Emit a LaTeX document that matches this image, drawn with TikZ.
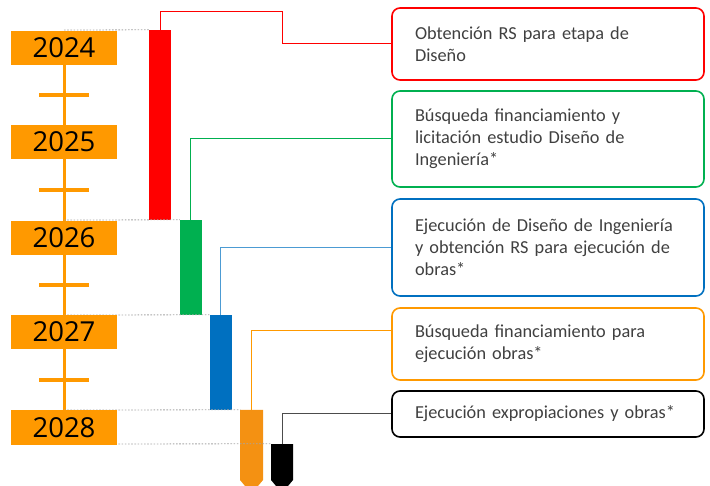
\documentclass[tikz,border=0pt]{standalone}
\usepackage{fontspec}
\setmainfont{Carlito}
\newfontfamily\yearfont{Open Sans}
\definecolor{yr}{RGB}{255,153,0}
\definecolor{cred}{RGB}{255,0,0}
\definecolor{cgreen}{RGB}{0,176,80}
\definecolor{cblue}{RGB}{0,112,192}
\definecolor{corange}{RGB}{244,145,18}
\definecolor{borange}{RGB}{255,153,0}
\definecolor{txt}{RGB}{64,64,64}
\begin{document}
\begin{tikzpicture}[x=1pt,y=-1pt,
  yearbox/.style={fill=yr,minimum width=106pt,minimum height=34pt,inner sep=0pt,
    font=\yearfont\fontsize{27.5}{30}\selectfont,text=black},
  tickmark/.style={draw=yr,line width=4pt},
  bar/.style={minimum width=22pt,inner sep=0pt,draw=none},
  infobox/.style={draw,line width=1.6pt,rounded corners=8pt,minimum width=312pt,
    text width=266pt,inner xsep=23pt,align=left,text=txt,
    font=\fontsize{18.3}{22}\selectfont},
  conn/.style={line width=1pt},
  guide/.style={draw=gray!70,dash pattern=on 1.6pt off 1.6pt,line width=0.8pt}]
\useasboundingbox (0,0) rectangle (710,486);
% guide line starts
\coordinate (g1) at (64,30);
\coordinate (g2) at (64,220);
\coordinate (g3) at (64,315);
\coordinate (g4) at (64,410);
\coordinate (g5) at (64,444);
% timeline
\draw[draw=yr,line width=3pt] (64,48) -- (64,427);
\foreach \yy in {95,190,285,380} \draw[tickmark] (39,\yy) -- (89,\yy);
% bars
\node[bar,fill=cred,minimum height=190pt] (rbar) at (160,125) {};
\node[bar,fill=cgreen,minimum height=95pt] (gbar) at (191,267.5) {};
\node[bar,fill=cblue,minimum height=95pt] (bbar) at (220.5,362.5) {};
\fill[corange] (240,410) -- (263,410) -- (263,480) -- (258,486) -- (245,486) -- (240,480) -- cycle;
\node[bar,minimum height=76pt] (obar) at (251.5,448) {};
\fill[black] (271,444) -- (293,444) -- (293,480) -- (288,486) -- (276,486) -- (271,480) -- cycle;
\node[bar,minimum height=42pt] (kbar) at (282,465) {};
% guides
\draw[guide] (g1) -- (rbar.north west);
\draw[guide] (g2) -- (gbar.north west);
\draw[guide] (g3) -- (bbar.north west);
\draw[guide] (g4) -- (obar.north west);
\draw[guide] (g5) -- (kbar.north west);
% year boxes
\node[yearbox] (y24) at (64,48) {2024};
\node[yearbox] (y25) at (64,142) {2025};
\node[yearbox] (y26) at (64,238) {2026};
\node[yearbox] (y27) at (64,332) {2027};
\node[yearbox] (y28) at (64,427.5) {2028};
% info boxes
\node[infobox,draw=cred,minimum height=72pt] (rbox) at (548,44)
  {Obtención RS para etapa de\\Diseño};
\node[infobox,draw=cgreen,minimum height=96pt] (gbox) at (548,139)
  {Búsqueda financiamiento y\\licitación estudio Diseño de\\Ingeniería*};
\node[infobox,draw=cblue,minimum height=97pt] (bbox) at (548,247.5)
  {Ejecución de Diseño de Ingeniería\\y obtención RS para ejecución de\\obras*};
\node[infobox,draw=borange,minimum height=72pt] (obox) at (548,344)
  {Búsqueda financiamiento para\\ejecución obras*};
\node[infobox,draw=black,minimum height=46pt] (kbox) at (548,414)
  {Ejecución expropiaciones y obras*};
% connectors
\coordinate (rbend) at (282,12);
\draw[conn,cred] (rbar.north) |- (rbend) |- (rbox.west);
\draw[conn,cgreen] ([xshift=-1pt]gbar.north) |- (gbox.west);
\draw[conn,cblue!70] (bbar.north) |- (bbox.west);
\draw[conn,borange] (obar.north) |- ([yshift=13pt]obox.west);
\draw[conn,black!70] (kbar.north) |- (kbox.west);
\end{tikzpicture}
\end{document}
